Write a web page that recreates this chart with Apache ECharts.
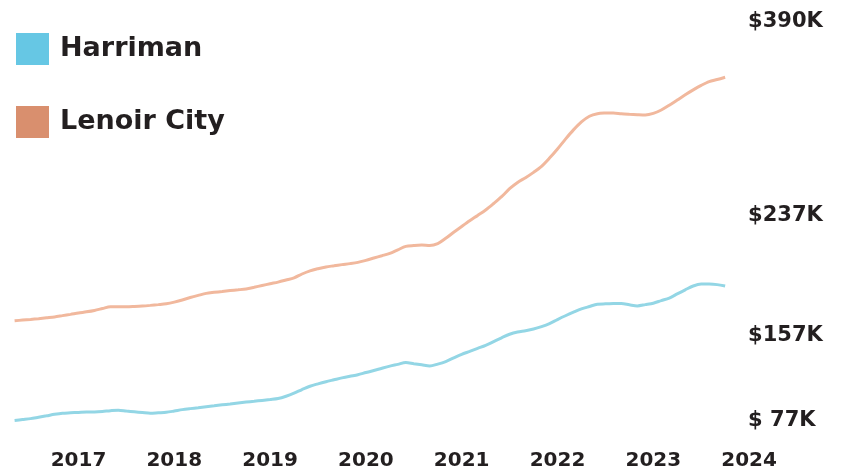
<!DOCTYPE html>
<html>
<head>
<meta charset="utf-8">
<script src="https://cdn.jsdelivr.net/npm/echarts@6/dist/echarts.min.js"></script>
<style>
  html, body { margin: 0; padding: 0; background: #ffffff; }
  #chart { width: 842px; height: 472px; }
</style>
</head>
<body>
<div id="chart"></div>
<script>
// Median home values (thousands of dollars), monthly, May 2016 – Oct 2023
const firstMonth = { year: 2016, month: 5 };
const lastAxisMonth = { year: 2024, month: 1 };

const harriman = [
  75.1, 75.8, 76.5, 77.6, 78.7, 79.9, 80.8, 81.1, 81.4, 81.7, 81.8, 82.2,
  82.8, 83.2, 82.5, 81.9, 81.3, 80.7, 81.1, 81.5, 82.5, 83.6, 84.4, 85.1,
  85.9, 86.6, 87.4, 88.1, 88.9, 89.6, 90.2, 90.9, 91.6, 92.4, 94.2, 96.6,
  99.5, 102.1, 104.0, 105.7, 107.2, 108.7, 110.0, 111.2, 112.9, 114.5, 116.3, 118.0,
  119.4, 120.9, 119.9, 119.0, 118.1, 119.6, 121.6, 124.5, 127.3, 129.6, 132.0, 134.4,
  137.4, 140.4, 143.2, 145.0, 146.0, 147.3, 149.2, 151.6, 154.8, 157.8, 160.6, 163.2,
  165.1, 166.9, 167.2, 167.4, 167.5, 166.5, 165.6, 166.6, 167.7, 169.8, 171.8, 175.1,
  178.3, 181.3, 182.8, 182.8, 182.4, 181.3
];

const lenoirCity = [
  153.8, 154.4, 154.9, 155.5, 156.2, 156.9, 157.9, 158.9, 160.0, 160.9, 162.0, 163.5,
  165.0, 165.0, 165.0, 165.2, 165.5, 166.0, 166.6, 167.3, 168.6, 170.3, 172.2, 173.9,
  175.5, 176.3, 177.0, 177.7, 178.3, 179.0, 180.3, 181.7, 183.1, 184.4, 186.0, 187.7,
  190.8, 193.3, 195.0, 196.4, 197.3, 198.2, 199.0, 200.0, 201.6, 203.4, 205.2, 207.1,
  209.9, 212.6, 213.3, 213.7, 213.3, 214.8, 219.0, 223.8, 228.4, 232.9, 237.1, 241.4,
  246.5, 251.9, 258.2, 263.2, 266.9, 271.1, 275.9, 282.4, 289.6, 297.4, 304.7, 311.0,
  315.5, 317.5, 318.0, 318.1, 317.4, 317.0, 316.7, 316.5, 317.7, 320.4, 324.2, 328.3,
  332.4, 336.3, 339.9, 342.9, 344.5, 346.3
];

const yTickValues = [77, 157, 237, 390];
const yTickLabels = ['$ 77K', '$157K', '$237K', '$390K'];

const seriesNames = ['Harriman', 'Lenoir City'];
const keyColors = ['#66c7e4', '#d98f6e'];
const lineColors = ['#93d6e5', '#f1b89d'];

// Month categories along the x axis ("YYYY-MM")
const months = [];
for (let y = firstMonth.year, m = firstMonth.month;
     y < lastAxisMonth.year || (y === lastAxisMonth.year && m <= lastAxisMonth.month); ) {
  months.push(y + '-' + String(m).padStart(2, '0'));
  m++;
  if (m > 12) { m = 1; y++; }
}

const font = '"DejaVu Sans", Inter, sans-serif';
const ink = '#231f20';

const chart = echarts.init(document.getElementById('chart'), null, { renderer: 'canvas' });

chart.setOption({
  animation: false,
  backgroundColor: '#ffffff',
  grid: { left: 14.6, right: 92.9, top: 9.3, bottom: 32.5, containLabel: false },
  legend: {
    orient: 'vertical',
    left: 16,
    top: 33,
    padding: 0,
    icon: 'rect',
    itemWidth: 33,
    itemHeight: 32,
    itemGap: 41,
    selectedMode: false,
    textStyle: {
      fontFamily: font, fontWeight: 'bold', fontSize: 27, color: ink,
      lineHeight: 32, padding: [0, 0, 0, 6]
    },
    data: seriesNames.map((n, i) => ({ name: n, itemStyle: { color: keyColors[i] } }))
  },
  xAxis: {
    type: 'category',
    data: months,
    boundaryGap: false,
    axisLine: { show: false },
    axisTick: { show: false },
    splitLine: { show: false },
    axisLabel: {
      interval: (idx, val) => val.endsWith('-01'),
      formatter: val => val.slice(0, 4),
      margin: 11,
      fontFamily: font, fontWeight: 'bold', fontSize: 20, color: ink
    }
  },
  yAxis: {
    type: 'value',
    position: 'right',
    min: 60,
    max: 400,
    axisLine: { show: false },
    axisTick: { show: false },
    splitLine: { show: false },
    axisLabel: {
      customValues: yTickValues,
      margin: -1,
      fontFamily: font, fontWeight: 'bold', fontSize: 21, color: ink,
      formatter: v => {
        const i = yTickValues.indexOf(v);
        const t = i >= 0 ? yTickLabels[i] : '';
        if (v === 157) return '{low|' + t + '}';
        if (v === 77) return '{base|' + t + '}';
        return t;
      },
      rich: {
        low: {
          fontFamily: font, fontWeight: 'bold', fontSize: 21, color: ink,
          padding: [38, 0, 0, 0]
        },
        base: {
          fontFamily: font, fontWeight: 'bold', fontSize: 21, color: ink,
          padding: [6, 0, 0, 0]
        }
      }
    }
  },
  series: [harriman, lenoirCity].map((d, i) => ({
    name: seriesNames[i],
    type: 'line',
    data: d,
    smooth: 0.3,
    symbol: 'none',
    itemStyle: { color: keyColors[i] },
    lineStyle: { color: lineColors[i], width: 3 }
  }))
});
</script>
</body>
</html>
